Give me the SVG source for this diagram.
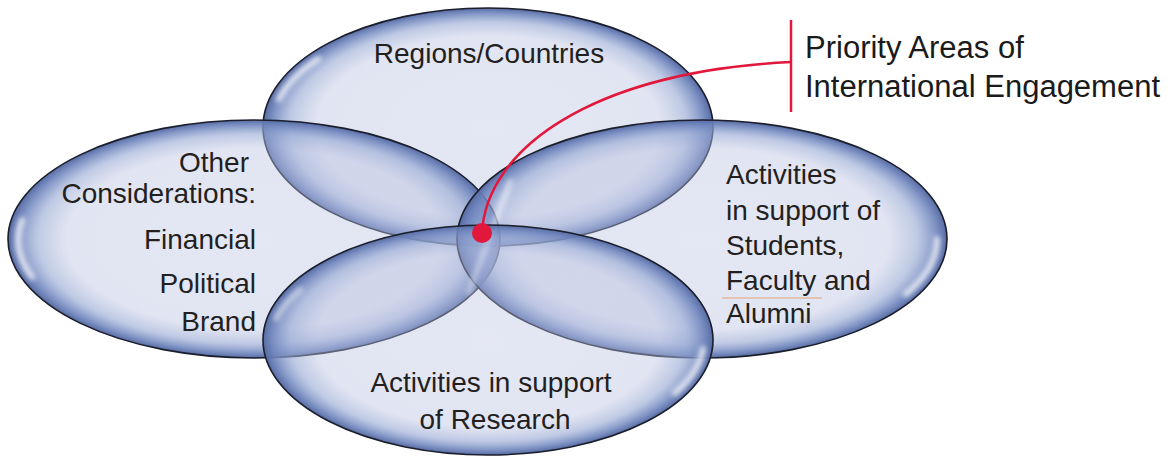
<svg xmlns="http://www.w3.org/2000/svg" width="1174" height="458" viewBox="0 0 1174 458">
  <style>
    .oval { fill: url(#glass); stroke: #1b1e2b; stroke-width: 1.6; }
    .hl { fill: none; stroke: #ffffff; stroke-width: 6; stroke-linecap: round; opacity: 0.75; filter: url(#soft); }
    .txt { font-family: "Liberation Sans", Arial, sans-serif; font-size: 28px; fill: #231f20; }
    .lbl { font-family: "Liberation Sans", Arial, sans-serif; font-size: 31px; fill: #1a1a1a; }
    .red { fill: none; stroke: #e1173b; stroke-width: 2.5; }
  </style>
  <defs>
    <radialGradient id="glass" cx="0.5" cy="0.5" r="0.5">
      <stop offset="0" stop-color="#b8c0e0" stop-opacity="0.38"/>
      <stop offset="0.76" stop-color="#b8c0e0" stop-opacity="0.42"/>
      <stop offset="0.88" stop-color="#96a8d3" stop-opacity="0.62"/>
      <stop offset="0.96" stop-color="#6e84bc" stop-opacity="0.9"/>
      <stop offset="1" stop-color="#566ba3" stop-opacity="1"/>
    </radialGradient>
    <filter id="soft" x="-50%" y="-50%" width="200%" height="200%">
      <feGaussianBlur stdDeviation="2.5"/>
    </filter>
  </defs>
  <rect width="1174" height="458" fill="#ffffff"/>

  <g id="node-regions">
    <ellipse class="oval" cx="488" cy="127" rx="225" ry="119"/>
    <path class="hl" d="M279,99 A216,110 0 0,1 318,59"/>
    <text class="txt" x="489" y="63" text-anchor="middle">Regions/Countries</text>
  </g>

  <g id="node-other">
    <ellipse class="oval" cx="254" cy="239" rx="246" ry="119"/>
    <path class="hl" d="M22,220 A236,111 0 0,0 32,277"/>
    <text class="txt" x="249" y="172" text-anchor="end">Other</text>
    <text class="txt" x="256" y="203" text-anchor="end">Considerations:</text>
    <text class="txt" x="256" y="249" text-anchor="end">Financial</text>
    <text class="txt" x="256" y="293" text-anchor="end">Political</text>
    <text class="txt" x="256" y="331" text-anchor="end">Brand</text>
  </g>

  <g id="node-students">
    <ellipse class="oval" cx="702" cy="239" rx="245" ry="119"/>
    <path class="hl" d="M937,239 A235,110 0 0,1 906,294"/>
    <path class="hl" d="M510,182 Q490,235 469,292" style="opacity:0.5"/>
    <text class="txt" x="726" y="184">Activities</text>
    <text class="txt" x="726" y="220">in support of</text>
    <text class="txt" x="726" y="255">Students,</text>
    <text class="txt" x="726" y="290">Faculty and</text>
    <line x1="722" y1="298" x2="822" y2="298" stroke="#e3a27a" stroke-width="1"/>
    <text class="txt" x="726" y="323">Alumni</text>
  </g>

  <g id="node-research">
    <ellipse class="oval" cx="488" cy="340" rx="225" ry="115"/>
    <path class="hl" d="M703,349 A216,106 0 0,1 675,393"/>
    <path class="hl" d="M276,318 A216,106 0 0,1 300,290" style="opacity:0.5"/>
    <text class="txt" x="491" y="392" text-anchor="middle">Activities in support</text>
    <text class="txt" x="495" y="429" text-anchor="middle">of Research</text>
  </g>

  <g id="node-priority">
    <text class="lbl" x="805" y="58">Priority Areas of</text>
    <text class="lbl" x="805" y="97">International Engagement</text>
  </g>

  <g id="connectors">
    <line class="red" x1="791" y1="20" x2="791" y2="112"/>
    <path class="red" d="M482,233 C486,150 590,72 791,62"/>
    <circle cx="482" cy="233" r="10" fill="#e1173b"/>
  </g>
</svg>
